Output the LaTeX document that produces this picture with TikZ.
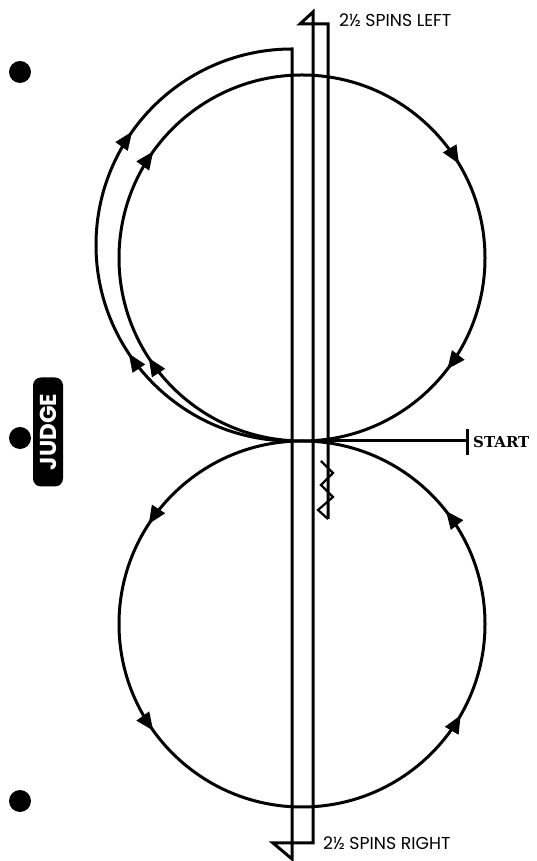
\documentclass[tikz,border=0pt]{standalone}
\usepackage{fontspec}
\newfontfamily\popfont{Poppins}
\newfontfamily\slabfont{DejaVu Serif}
\usetikzlibrary{arrows.meta,decorations.markings}
\tikzset{
  Tri/.tip={Triangle[length=18pt,width=15pt]},
  arrowat/.style={postaction={decorate,decoration={markings,mark=at position #1 with {\arrow{Tri}}}}},
  skate/.style={line width=3pt,line join=miter},
  dot/.style={fill=black},
  lbl/.style={anchor=base west,inner sep=0pt}
}
\begin{document}
\begin{tikzpicture}[x=1pt,y=1pt]
\useasboundingbox (0,0) rectangle (537,861);
% key points
\coordinate (tan) at (302,420);
\coordinate (obot) at (292,420);
% upper circle (clockwise)
\draw[skate,arrowat=0.158,arrowat=0.349,arrowat=0.664,arrowat=0.854] (tan) arc[start angle=270,end angle=-90,radius=183];
% lower circle (counter-clockwise)
\draw[skate,arrowat=0.158,arrowat=0.349,arrowat=0.667,arrowat=0.856] (tan) arc[start angle=90,end angle=450,radius=183];
% outer arc and spin lines
\draw[skate] (obot) arc[start angle=270,end angle=90,radius=196] -- (292,2) -- (273,18) -- (313,18) -- (313,849) -- (300,837) -- (328,837) -- (328,342);
\path[arrowat=0.313,arrowat=0.696] (obot) arc[start angle=270,end angle=90,radius=196];
% zigzag
\draw[line width=2.2pt,line join=miter] (321,400) -- (333,388) -- (321,376) -- (333,364) -- (318,351) -- (328,342);
% start line
\coordinate (st0) at (328,420);
\coordinate (st1) at (467,420);
\draw[skate] (st0) -- (st1);
\draw[skate] (467,406) -- (467,432);
\node[lbl] (start) at (473,413) {\slabfont\bfseries\fontsize{15}{15}\selectfont START};
% labels
\node[lbl] (left) at (339,834) {\popfont\fontsize{17.3}{17}\selectfont 2½ SPINS LEFT};
\node[lbl] (right) at (323,11) {\popfont\fontsize{17.3}{17}\selectfont 2½ SPINS RIGHT};
% judge
\fill[dot] (20,789) circle[radius=11];
\fill[dot] (20,423) circle[radius=11];
\fill[dot] (20,60) circle[radius=11];
\node[fill=black,rounded corners=8pt,minimum width=109pt,minimum height=30pt,inner sep=0pt,rotate=90,text=white] (judge) at (48,429) {\popfont\bfseries\fontsize{23}{23}\selectfont JUDGE};
\end{tikzpicture}
\end{document}
